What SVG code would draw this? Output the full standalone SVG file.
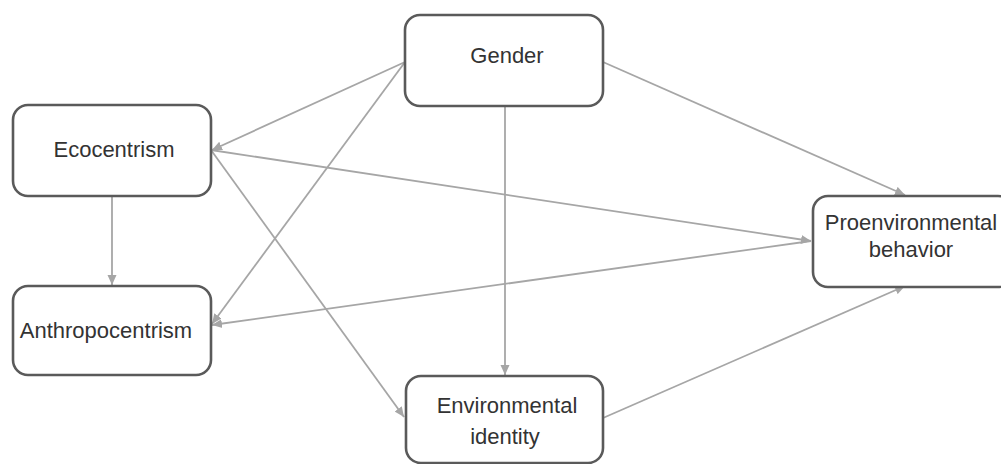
<svg xmlns="http://www.w3.org/2000/svg" width="1001" height="464" viewBox="0 0 1001 464">
<style>
.box{fill:#fff;stroke:#5a5a5a;stroke-width:2.6}
.lbl{font-family:"Liberation Sans",Arial,sans-serif;font-size:22px;fill:#333;text-anchor:middle}
.edge{stroke:#a6a6a6;stroke-width:1.8;fill:none;marker-end:url(#ah)}
</style>
<defs>
<marker id="ah" viewBox="0 0 10 10" refX="10" refY="5" markerWidth="10" markerHeight="10" markerUnits="userSpaceOnUse" orient="auto">
<path d="M0,0.5 L10,5 L0,9.5 Z" fill="#a6a6a6"/>
</marker>
</defs>
<rect width="1001" height="464" fill="#fff"/>
<g id="connectors">
<line class="edge" x1="405" y1="62" x2="212" y2="150"/>
<line class="edge" x1="405" y1="62" x2="212" y2="324"/>
<line class="edge" x1="211" y1="150" x2="811" y2="241"/>
<line class="edge" x1="811" y1="241" x2="212" y2="325"/>
<line class="edge" x1="211" y1="150" x2="404" y2="417"/>
<line class="edge" x1="505" y1="106" x2="505" y2="375"/>
<line class="edge" x1="603" y1="62" x2="905" y2="195"/>
<line class="edge" x1="603" y1="418" x2="905" y2="286"/>
<line class="edge" x1="112" y1="196" x2="112" y2="285"/>
</g>
<g id="gender">
<rect class="box" x="405" y="15" width="198" height="91" rx="15"/>
<text class="lbl" x="507" y="63">Gender</text>
</g>
<g id="ecocentrism">
<rect class="box" x="13" y="105" width="198" height="91" rx="15"/>
<text class="lbl" x="114" y="157">Ecocentrism</text>
</g>
<g id="anthropocentrism">
<rect class="box" x="13" y="286" width="198" height="89" rx="15"/>
<text class="lbl" x="106" y="338">Anthropocentrism</text>
</g>
<g id="environmental-identity">
<rect class="box" x="406" y="376" width="197" height="87" rx="15"/>
<text class="lbl" x="507" y="413">Environmental</text>
<text class="lbl" x="505" y="444">identity</text>
</g>
<g id="proenvironmental-behavior">
<rect class="box" x="813" y="196" width="200" height="91" rx="15"/>
<text class="lbl" x="911" y="230">Proenvironmental</text>
<text class="lbl" x="911" y="257">behavior</text>
</g>
</svg>
